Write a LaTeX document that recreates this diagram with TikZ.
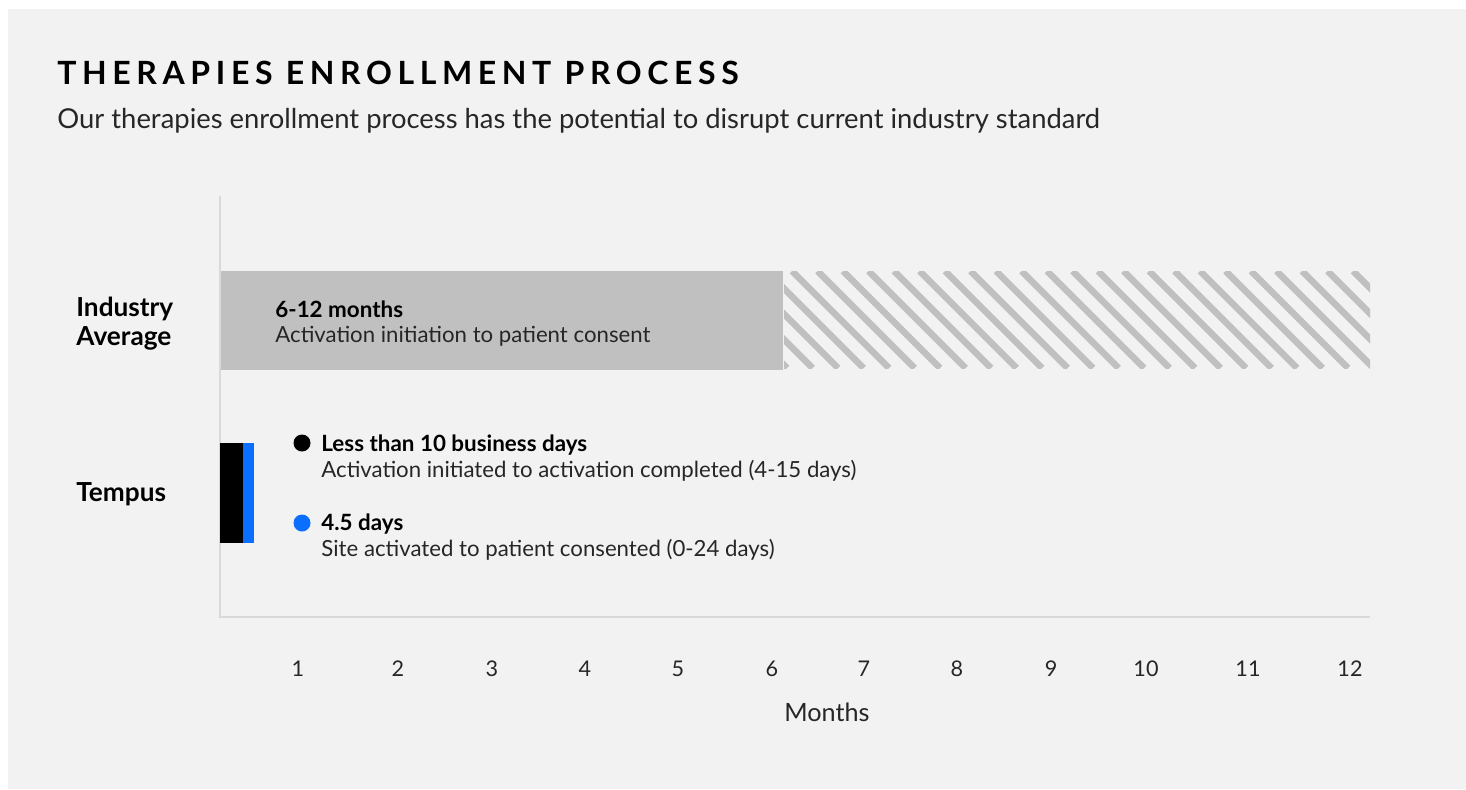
\documentclass[tikz,border=0pt]{standalone}
\usepackage{fontspec}
\setmainfont{Lato}
\usepackage{xcolor}
\usetikzlibrary{calc}

\definecolor{panelgray}{HTML}{F2F2F2}
\definecolor{axisgray}{HTML}{D9D9D9}
\definecolor{bargray}{HTML}{C0C0C0}
\definecolor{tempusblue}{HTML}{0A6EFF}

\begin{document}
\begin{tikzpicture}[x=0.5pt,y=-0.5pt,
    rowlabel/.style={anchor=base west,font=\fontsize{13.1}{15}\selectfont\bfseries,inner sep=0pt},
    headtext/.style={anchor=base west,font=\fontsize{11.2}{13}\selectfont\bfseries,inner sep=0pt},
    bodytext/.style={anchor=base west,font=\fontsize{11.1}{13}\selectfont,text=black!85,inner sep=0pt},
    ticklabel/.style={anchor=base,font=\fontsize{10.8}{12}\selectfont,text=black!85,inner sep=0pt},
    stripe/.style={bargray,line width=3.2pt}]
  % Page and panel
  \useasboundingbox (0,0) rectangle (1466,789);
  \fill[white] (0,0) rectangle (1466,789);
  \fill[panelgray] (8,9) rectangle (1466,789);

  % Title and subtitle
  \node[anchor=base west,inner sep=0pt,font=\fontsize{16}{18}\selectfont\bfseries\addfontfeatures{LetterSpace=17.5}] (title) at (57,84) {THERAPIES ENROLLMENT PROCESS};
  \node[anchor=base west,inner sep=0pt,font=\fontsize{13.7}{16}\selectfont,text=black!85] (subtitle) at (57,128) {Our therapies enrollment process has the potential to disrupt current industry standard};

  % Axes
  \coordinate (top) at (220,196);
  \coordinate (O) at (220,617); % Origin
  \coordinate (end) at (1370,617);
  \draw[axisgray,line width=1pt] (top) -- (O) -- (end);

  % Industry average bar
  \fill[bargray] (221,271) rectangle (783,370);
  \begin{scope}
    \clip (784,271) rectangle (1370,368);
    \foreach \i in {0,...,27}
      \draw[stripe] ({690+\i*25.5},271) -- ++(97,97);
  \end{scope}
  \node[headtext] (indhead) at (275,317) {6-12 months};
  \node[bodytext] (indbody) at (275,342) {Activation initiation to patient consent};

  % Tempus bars
  \fill[black] (220,443) rectangle (243,543);
  \fill[tempusblue] (243,443) rectangle (254,543);

  % Row labels
  \node[rowlabel] (industry) at (76,316) {Industry};
  \node[rowlabel] (average) at (76,345) {Average};
  \node[rowlabel] (tempus) at (76,501) {Tempus};

  % Legend
  \fill[black] (302,443) circle (8.5);
  \node[headtext] (lesshead) at (321,451) {Less than 10 business days};
  \node[bodytext] (lessbody) at (321,477) {Activation initiated to activation completed (4-15 days)};
  \fill[tempusblue] (302,523) circle (8.5);
  \node[headtext] (dayshead) at (321,530) {4.5 days};
  \node[bodytext] (daysbody) at (321,556) {Site activated to patient consented (0-24 days)};

  % Month ticks
  \foreach \m/\x in {1/298,2/398,3/492,4/585,5/678,6/772,7/864,8/957,9/1051,10/1146,11/1248,12/1350}
    \node[ticklabel] (m\m) at (\x,676) {\m};
  \node[ticklabel,font=\fontsize{12.6}{14}\selectfont] (months) at (827,721) {Months};

\end{tikzpicture}
\end{document}
